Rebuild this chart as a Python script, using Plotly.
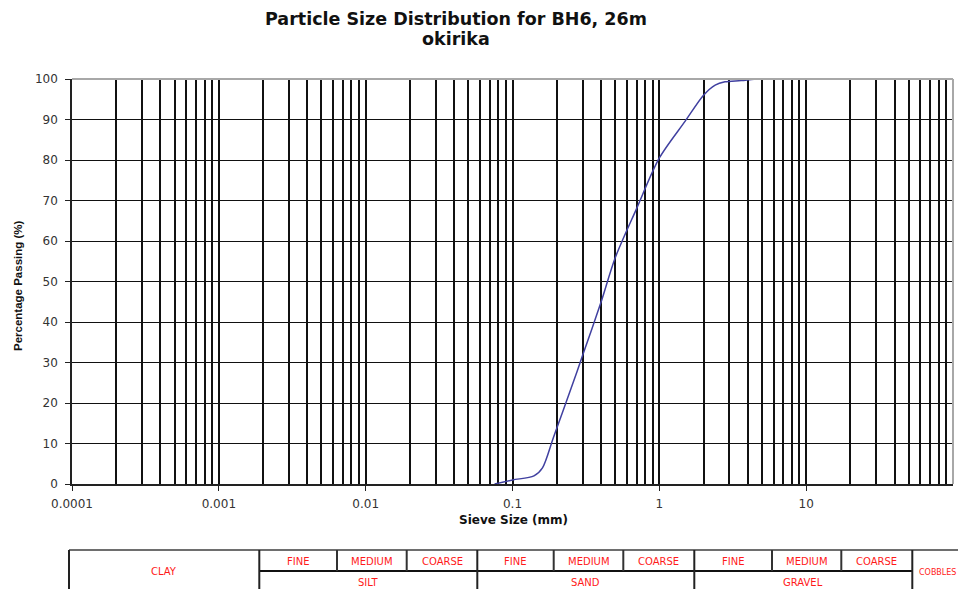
import plotly.graph_objects as go

# Grading curve, BH6 at 26 m (sieve size in mm, % passing)
sieve_mm = [0.0755, 0.1, 0.14, 0.16, 0.19, 0.25, 0.3, 0.4, 0.5, 0.7, 1.0, 1.5, 2.0, 2.4, 2.8, 3.6, 4.6]
passing_pct = [0, 1.0, 2.0, 4.0, 11.5, 23.5, 31.7, 44.8, 55.8, 68.0, 80.5, 89.6, 96.0, 98.5, 99.3, 99.6, 100]

decade_ticks = [0.0001, 0.001, 0.01, 0.1, 1, 10]
decade_labels = ["0.0001", "0.001", "0.01", "0.1", "1", "10"]
y_ticks = list(range(0, 101, 10))

# classification strip under the chart
upper_labels = ["FINE", "MEDIUM", "COARSE", "FINE", "MEDIUM", "COARSE", "FINE", "MEDIUM", "COARSE"]
lower_labels = ["SILT", "SAND", "GRAVEL"]

W, H = 958, 589
L, R, T, B = 72, 5, 79, 105
PW, PH = W - L - R, H - T - B


def px(x):
    return (x - L) / PW


def py(y):
    return (H - B - y) / PH


minor_vals = [k * 10.0 ** e for e in range(-4, 2) for k in range(2, 10)]

fig = go.Figure()
fig.add_trace(go.Scatter(
    x=sieve_mm, y=passing_pct, mode="lines",
    line=dict(color="#4040a0", width=1.5, shape="spline", smoothing=0.8),
    hoverinfo="x+y", showlegend=False, cliponaxis=False,
))

tick_font = dict(family="DejaVu Sans, Liberation Sans, Arial", size=12, color="#333333")

fig.update_xaxes(
    type="log", range=[-4, 2],
    tickmode="array", tickvals=decade_ticks, ticktext=decade_labels,
    ticks="outside", ticklen=5, tickcolor="#222", tickwidth=1,
    ticklabelstandoff=3,
    showgrid=True, gridcolor="#111", gridwidth=1.6,
    minor=dict(tickmode="array", tickvals=minor_vals, showgrid=True,
               gridcolor="#111", gridwidth=1.6, ticks=""),
    showline=True, linecolor="#222", linewidth=1.5,
    tickfont=tick_font, zeroline=False,
)
fig.update_yaxes(
    range=[0, 100], tickmode="array", tickvals=y_ticks,
    ticks="outside", ticklen=5, tickcolor="#222", tickwidth=1,
    ticklabelstandoff=5,
    showgrid=True, gridcolor="#111", gridwidth=1,
    showline=True, linecolor="#222", linewidth=1.5,
    tickfont=tick_font, zeroline=False,
)

shapes = []
# light frame on the top and right of the plot area
shapes.append(dict(type="line", xref="paper", yref="paper", x0=0, x1=1, y0=1, y1=1,
                   line=dict(color="#a8a8a8", width=2), layer="above"))
shapes.append(dict(type="line", xref="paper", yref="paper", x0=1, x1=1, y0=0, y1=1,
                   line=dict(color="#a8a8a8", width=2), layer="above"))

# table grid
tbl_top, tbl_mid, tbl_bot = 550, 571, 600
full_cols = [69, 259.3, 477.3, 694.3, 912.3]
half_cols = [337, 406.7, 553.7, 623.3, 772, 841.3]
shapes.append(dict(type="line", xref="paper", yref="paper",
                   x0=px(69), x1=px(1000), y0=py(tbl_top), y1=py(tbl_top),
                   line=dict(color="#6e6e6e", width=2)))
shapes.append(dict(type="line", xref="paper", yref="paper",
                   x0=px(259.3), x1=px(912.3), y0=py(tbl_mid), y1=py(tbl_mid),
                   line=dict(color="#111", width=2)))
for c in full_cols:
    shapes.append(dict(type="line", xref="paper", yref="paper",
                       x0=px(c), x1=px(c), y0=py(tbl_top), y1=py(tbl_bot),
                       line=dict(color="#222", width=2)))
for c in half_cols:
    shapes.append(dict(type="line", xref="paper", yref="paper",
                       x0=px(c), x1=px(c), y0=py(tbl_top), y1=py(tbl_mid),
                       line=dict(color="#333", width=2)))

annotations = []
title_font = dict(family="DejaVu Sans, Liberation Sans, Arial", size=17.5, color="#111")
annotations.append(dict(text="<b>Particle Size Distribution for BH6, 26m</b>",
                        xref="paper", yref="paper", x=px(456), y=py(19),
                        showarrow=False, font=title_font, xanchor="center", yanchor="middle"))
annotations.append(dict(text="<b>okirika</b>",
                        xref="paper", yref="paper", x=px(456), y=py(39),
                        showarrow=False, font=title_font, xanchor="center", yanchor="middle"))
annotations.append(dict(text="<b>Sieve Size (mm)</b>",
                        xref="paper", yref="paper", x=px(513), y=py(520),
                        showarrow=False, xanchor="center", yanchor="middle",
                        font=dict(family="DejaVu Sans, Liberation Sans", size=12, color="#111")))
annotations.append(dict(text="<b>Percentage Passing (%)</b>",
                        xref="paper", yref="paper", x=px(18), y=py(286),
                        showarrow=False, textangle=-90, xanchor="center", yanchor="middle",
                        font=dict(family="Liberation Sans Narrow, Arial Narrow, Liberation Sans",
                                  size=11.5, color="#111")))

tbl_font = dict(family="DejaVu Sans, Liberation Sans", size=10, color="#ff1a1a")
upper_edges = [259.3, 337, 406.7, 477.3, 553.7, 623.3, 694.3, 772, 841.3, 912.3]
for i, lab in enumerate(upper_labels):
    cx = (upper_edges[i] + upper_edges[i + 1]) / 2
    annotations.append(dict(text=lab, xref="paper", yref="paper", x=px(cx), y=py(561),
                            showarrow=False, font=tbl_font, xanchor="center", yanchor="middle"))
lower_edges = [259.3, 477.3, 694.3, 912.3]
for i, lab in enumerate(lower_labels):
    cx = (lower_edges[i] + lower_edges[i + 1]) / 2
    annotations.append(dict(text=lab, xref="paper", yref="paper", x=px(cx), y=py(582),
                            showarrow=False, font=tbl_font, xanchor="center", yanchor="middle"))
annotations.append(dict(text="CLAY", xref="paper", yref="paper", x=px(164), y=py(571),
                        showarrow=False, font=tbl_font, xanchor="center", yanchor="middle"))
annotations.append(dict(text="COBBLES", xref="paper", yref="paper", x=px(917), y=py(572),
                        showarrow=False, xanchor="left", yanchor="middle",
                        font=dict(family="DejaVu Sans, Liberation Sans", size=8, color="#ff1a1a")))

fig.update_layout(
    width=W, height=H,
    margin=dict(l=L, r=R, t=T, b=B, autoexpand=False),
    paper_bgcolor="white", plot_bgcolor="white",
    shapes=shapes, annotations=annotations,
    showlegend=False,
)

fig.write_html("out.html")
